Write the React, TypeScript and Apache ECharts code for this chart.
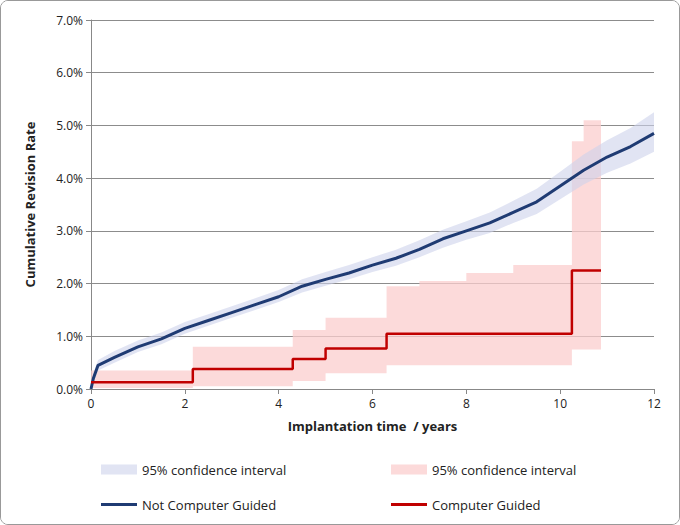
import React, { useEffect, useRef } from "react";
import * as echarts from "echarts";

const blueX = [0, 0.05, 0.15, 0.5, 1, 1.5, 2, 2.5, 3, 3.5, 4, 4.5, 5, 5.5, 6, 6.5, 7, 7.5, 8, 8.5, 9, 9.5, 10, 10.5, 11, 11.5, 12];
const blueMid = [0, 0.2, 0.45, 0.6, 0.8, 0.95, 1.15, 1.3, 1.45, 1.6, 1.75, 1.95, 2.08, 2.2, 2.35, 2.48, 2.65, 2.85, 3.0, 3.15, 3.35, 3.55, 3.85, 4.15, 4.4, 4.6, 4.85];
const blueLow = [0, 0.1, 0.35, 0.5, 0.7, 0.85, 1.05, 1.2, 1.35, 1.5, 1.65, 1.83, 1.96, 2.08, 2.22, 2.34, 2.5, 2.68, 2.83, 2.96, 3.15, 3.32, 3.6, 3.88, 4.1, 4.28, 4.5];
const blueHigh = [0, 0.3, 0.55, 0.72, 0.92, 1.07, 1.27, 1.42, 1.57, 1.72, 1.88, 2.08, 2.22, 2.35, 2.5, 2.64, 2.82, 3.02, 3.18, 3.35, 3.57, 3.8, 4.12, 4.45, 4.72, 4.95, 5.25];

const redX = [0, 2.17, 4.3, 5.0, 6.3, 10.25, 10.87];
const redMid = [0.13, 0.38, 0.57, 0.77, 1.05, 2.25, 2.25];
const redCiX = [0, 2.17, 4.3, 5.0, 6.3, 7, 8, 9, 10.25, 10.5, 10.87];
const redLow = [0.02, 0.05, 0.15, 0.3, 0.45, 0.45, 0.45, 0.45, 0.75, 0.75, 0.75];
const redHigh = [0.35, 0.8, 1.12, 1.35, 1.95, 2.05, 2.2, 2.35, 4.7, 5.1, 5.6];

// band polygon drawn once through the axis scale
const bandSeries = (name: string, xs: number[], lo: number[], hi: number[], color: string, step: boolean) => ({
  name,
  type: "custom" as const,
  itemStyle: { color },
  data: xs.map((x, i) => [x, lo[i], hi[i]]),
  encode: { x: 0, y: [1, 2] },
  renderItem: (params: any, api: any) => {
    if (params.dataIndex !== 0) return null;
    const top: number[][] = [];
    const bot: number[][] = [];
    xs.forEach((x, i) => {
      if (step && i > 0) {
        top.push(api.coord([x, hi[i - 1]]));
        bot.push(api.coord([x, lo[i - 1]]));
      }
      top.push(api.coord([x, hi[i]]));
      bot.push(api.coord([x, lo[i]]));
    });
    return {
      type: "polygon",
      shape: { points: top.concat(bot.reverse()) },
      style: { fill: color },
      silent: true,
    };
  },
});

const App = () => {
  const chartRef = useRef<HTMLDivElement>(null);

  useEffect(() => {
    if (!chartRef.current) return;
    document.body.style.margin = "0";
    const chart = echarts.init(chartRef.current, null, { renderer: "svg" });
    const font = "'Open Sans', sans-serif";
    const pairs = (xs: number[], ys: number[]) => xs.map((x, i) => [x, ys[i]]);
    const legText = { fontSize: 13, color: "#222" };

    const option: echarts.EChartsOption = {
      animation: false,
      backgroundColor: "#fff",
      textStyle: { fontFamily: font },
      grid: { left: 90, right: 25, top: 19, bottom: 135 },
      legend: [
        { left: 95, top: 457, itemWidth: 36, itemHeight: 10, data: [{ name: "95% confidence interval", icon: "rect" }], textStyle: legText },
        { left: 385, top: 457, itemWidth: 36, itemHeight: 10, data: [{ name: "95% confidence interval ", icon: "rect" }], textStyle: legText },
        { left: 95, top: 492, itemWidth: 36, itemHeight: 3, data: [{ name: "Not Computer Guided", icon: "rect" }], textStyle: legText },
        { left: 385, top: 492, itemWidth: 36, itemHeight: 3, data: [{ name: "Computer Guided", icon: "rect" }], textStyle: legText },
      ],
      xAxis: {
        type: "value",
        min: 0,
        max: 12,
        interval: 2,
        name: "Implantation time  / years",
        nameLocation: "middle",
        nameGap: 30,
        nameTextStyle: { fontWeight: "bold", fontSize: 13, color: "#222" },
        axisLine: { lineStyle: { color: "#888" } },
        axisTick: { show: true, lineStyle: { color: "#888" } },
        axisLabel: { color: "#222", fontSize: 12 },
        splitLine: { show: false },
      },
      yAxis: {
        type: "value",
        min: 0,
        max: 7,
        interval: 1,
        name: "Cumulative Revision Rate",
        nameLocation: "middle",
        nameGap: 55,
        nameTextStyle: { fontWeight: "bold", fontSize: 13, color: "#222" },
        axisLine: { show: true, lineStyle: { color: "#888" } },
        axisTick: { show: true, lineStyle: { color: "#888" } },
        axisLabel: { color: "#222", fontSize: 12, formatter: (v: number) => v.toFixed(1) + "%" },
        splitLine: { lineStyle: { color: "#8c8c8c" } },
      },
      series: [
        bandSeries("95% confidence interval ", redCiX, redLow, redHigh, "rgba(251,205,205,0.75)", true),
        bandSeries("95% confidence interval", blueX, blueLow, blueHigh, "rgba(205,210,235,0.6)", false),
        {
          name: "Not Computer Guided", type: "line", symbol: "none",
          itemStyle: { color: "#1f3b73" }, lineStyle: { color: "#1f3b73", width: 3 },
          data: pairs(blueX, blueMid),
        },
        {
          name: "Computer Guided", type: "line", step: "end", symbol: "none",
          itemStyle: { color: "#c00000" }, lineStyle: { color: "#c00000", width: 2.5 },
          data: pairs(redX, redMid),
        },
      ] as any,
    };

    chart.setOption(option);
    return () => chart.dispose();
  }, []);

  return (
    <div
      ref={chartRef}
      style={{ width: 678, height: 523, border: "1px solid #999", borderRadius: 8, overflow: "hidden" }}
    />
  );
};

export default App;
